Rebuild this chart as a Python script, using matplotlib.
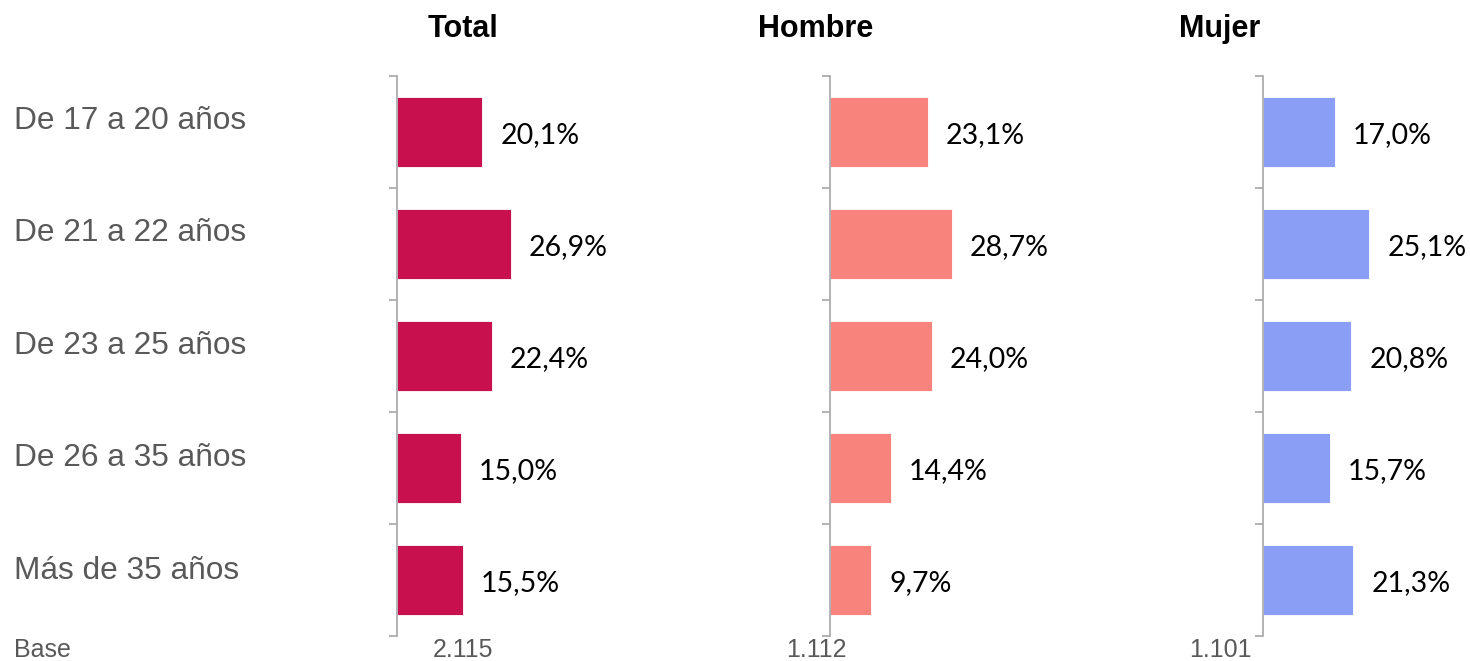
import matplotlib.pyplot as plt
import numpy as np

categories = ['De 17 a 20 años', 'De 21 a 22 años', 'De 23 a 25 años',
              'De 26 a 35 años', 'Más de 35 años']
total = [20.1, 26.9, 22.4, 15.0, 15.5]
hombre = [23.1, 28.7, 24.0, 14.4, 9.7]
mujer = [17.0, 25.1, 20.8, 15.7, 21.3]
panels = ['Total', 'Hombre', 'Mujer']
bases = ['2.115', '1.112', '1.101']
colors = ['#C8104E', '#F8837C', '#8B9EF5']

W, H = 1470, 661
fig = plt.figure(figsize=(W / 100, H / 100), dpi=100)

lefts = [397, 830, 1263]
title_x = [463, 816, 1220]
px_per_pct = 4.24
ax_w = 200  # pixels
n = len(categories)

for i, (vals, name, base, col) in enumerate(zip([total, hombre, mujer], panels, bases, colors)):
    ax = fig.add_axes([lefts[i] / W, (H - 636) / H, ax_w / W, 560 / H])
    y = np.arange(n) + 0.5
    ax.barh(y, vals, height=0.625, color=col, edgecolor='white', linewidth=0.6)
    ax.set_xlim(0, ax_w / px_per_pct)
    ax.set_ylim(n, 0)
    for yy, v in zip(y, vals):
        ax.text(v + 18 / px_per_pct, yy + 0.03, f'{v:.1f}%'.replace('.', ','),
                va='center', ha='left', fontsize=20.5, family='Lato', color='black')
    for s in ['top', 'right', 'bottom']:
        ax.spines[s].set_visible(False)
    ax.spines['left'].set_color('#A6A6A6')
    ax.spines['left'].set_linewidth(1.2)
    ax.set_yticks(np.arange(n + 1))
    ax.set_yticklabels([])
    ax.tick_params(axis='y', length=6, width=1.2, color='#A6A6A6', direction='out')
    ax.set_xticks([])
    fig.text(title_x[i] / W, (H - 29) / H, name, ha='center', va='center',
             fontsize=22, fontweight='bold', family='Liberation Sans', color='black')
    fig.text(title_x[i] / W, (H - 657) / H, base, ha='center', va='baseline',
             fontsize=18, family='Liberation Sans', color='#595959')

for k, c in enumerate(categories):
    fig.text(14 / W, (H - (121 + 112.4 * k)) / H, c, ha='left', va='center',
             fontsize=22.8, family='Liberation Sans', color='#595959')
fig.text(14 / W, (H - 657) / H, 'Base', ha='left', va='baseline',
         fontsize=18, family='Liberation Sans', color='#595959')

fig.savefig('out.png', dpi=100)
